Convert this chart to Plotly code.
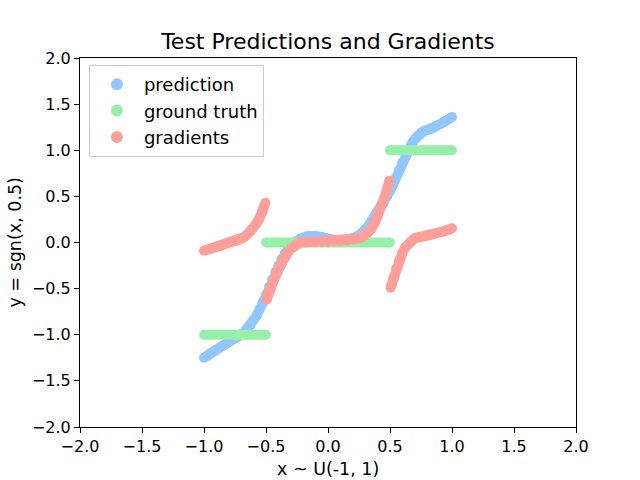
import plotly.graph_objects as go

# ---- data ----
x_pred = [-1.0, -0.975, -0.95, -0.925, -0.9, -0.875, -0.85, -0.825, -0.8, -0.775,
          -0.75, -0.725, -0.7, -0.675, -0.65, -0.625, -0.6, -0.575, -0.55, -0.525,
          -0.5, -0.475, -0.45, -0.425, -0.4, -0.375, -0.35, -0.325, -0.3, -0.275,
          -0.25, -0.225, -0.2, -0.175, -0.15, -0.125, -0.1, -0.075, -0.05, -0.025,
          0.0, 0.025, 0.05, 0.075, 0.1, 0.125, 0.15, 0.175, 0.2, 0.225,
          0.25, 0.275, 0.3, 0.325, 0.35, 0.375, 0.4, 0.425, 0.45, 0.475,
          0.5, 0.525, 0.55, 0.575, 0.6, 0.625, 0.65, 0.675, 0.7, 0.725,
          0.75, 0.775, 0.8, 0.825, 0.85, 0.875, 0.9, 0.925, 0.95, 0.975, 1.0]
y_pred = [-1.25, -1.23, -1.20, -1.18, -1.16, -1.14, -1.12, -1.10, -1.08, -1.06,
          -1.04, -1.02, -1.00, -0.97, -0.93, -0.89, -0.84, -0.79, -0.72, -0.65,
          -0.57, -0.48, -0.40, -0.32, -0.25, -0.18, -0.12, -0.07, -0.03, 0.00,
          0.02, 0.04, 0.055, 0.065, 0.07, 0.07, 0.07, 0.065, 0.06, 0.05,
          0.04, 0.03, 0.025, 0.02, 0.02, 0.02, 0.025, 0.03, 0.04, 0.06,
          0.08, 0.10, 0.14, 0.18, 0.23, 0.28, 0.33, 0.38, 0.43, 0.49,
          0.56, 0.63, 0.71, 0.79, 0.87, 0.94, 1.01, 1.07, 1.12, 1.16,
          1.19, 1.21, 1.22, 1.23, 1.245, 1.26, 1.28, 1.30, 1.32, 1.34, 1.36]

# ground truth: piecewise constant segments (x endpoints, level)
gt_x = [-1.0, -0.5, None, -0.5, 0.5, None, 0.5, 1.0]
gt_y = [-1.0, -1.0, None, 0.0, 0.0, None, 1.0, 1.0]

# gradients: three segments
x_grad1 = [-1.0, -0.975, -0.95, -0.925, -0.9, -0.875, -0.85, -0.825, -0.8, -0.775,
           -0.75, -0.725, -0.7, -0.675, -0.65, -0.625, -0.6, -0.575, -0.55, -0.525, -0.505]
y_grad1 = [-0.09, -0.08, -0.07, -0.06, -0.05, -0.04, -0.03, -0.015, -0.005, 0.005,
           0.015, 0.025, 0.04, 0.06, 0.09, 0.12, 0.16, 0.21, 0.27, 0.34, 0.43]
x_grad2 = [-0.495, -0.475, -0.45, -0.425, -0.4, -0.375, -0.35, -0.325, -0.3, -0.275,
           -0.25, -0.225, -0.2, -0.15, -0.1, -0.05, 0.0, 0.05, 0.1, 0.15,
           0.2, 0.225, 0.25, 0.275, 0.3, 0.325, 0.35, 0.375, 0.4, 0.425,
           0.45, 0.475, 0.495]
y_grad2 = [-0.62, -0.52, -0.44, -0.36, -0.28, -0.21, -0.15, -0.11, -0.07, -0.04,
           -0.015, 0.0, 0.0, 0.005, 0.005, 0.005, 0.005, 0.01, 0.015, 0.02,
           0.03, 0.035, 0.045, 0.06, 0.08, 0.11, 0.15, 0.21, 0.28, 0.37,
           0.47, 0.57, 0.67]
x_grad3 = [0.505, 0.525, 0.55, 0.575, 0.6, 0.625, 0.65, 0.675, 0.7, 0.725,
           0.75, 0.775, 0.8, 0.825, 0.85, 0.875, 0.9, 0.925, 0.95, 0.975, 1.0]
y_grad3 = [-0.49, -0.39, -0.28, -0.19, -0.11, -0.05, -0.01, 0.025, 0.045, 0.055,
           0.06, 0.065, 0.07, 0.08, 0.09, 0.10, 0.11, 0.12, 0.13, 0.14, 0.155]

names = ["prediction", "ground truth", "gradients"]
colors = ["#92C6FF", "#97F0AA", "#FF9F9A"]
tick_vals = [-2.0, -1.5, -1.0, -0.5, 0.0, 0.5, 1.0, 1.5, 2.0]
tick_text = ["\u22122.0", "\u22121.5", "\u22121.0", "\u22120.5", "0.0",
             "0.5", "1.0", "1.5", "2.0"]

FONT = "DejaVu Sans"
MS = 10

grad_x = x_grad1 + [None] + x_grad2 + [None] + x_grad3
grad_y = y_grad1 + [None] + y_grad2 + [None] + y_grad3

series = [(x_pred, y_pred), (gt_x, gt_y), (grad_x, grad_y)]

fig = go.Figure()
for i, ((xs, ys), name, col) in enumerate(zip(series, names, colors)):
    fig.add_trace(go.Scatter(x=xs, y=ys, mode="lines", showlegend=False,
                             legendgroup=f"g{i}",
                             line=dict(color=col, width=MS), hoverinfo="skip",
                             connectgaps=False))
    fig.add_trace(go.Scatter(x=xs, y=ys, mode="markers", name=name,
                             legendgroup=f"g{i}",
                             marker=dict(color=col, size=MS, line=dict(width=0))))

axis_common = dict(
    range=[-2, 2], tickvals=tick_vals, ticktext=tick_text,
    showgrid=False, zeroline=False, showline=True, mirror=True,
    linecolor="black", linewidth=1, ticks="outside", ticklen=5, tickwidth=1,
    tickcolor="black", tickfont=dict(family=FONT, size=16, color="black"),
    automargin=False,
)

fig.update_layout(
    width=640, height=480,
    margin=dict(l=80, r=64, t=58, b=53),
    paper_bgcolor="white", plot_bgcolor="white",
    font=dict(family=FONT, size=16, color="black"),
    title=dict(text="Test Predictions and Gradients", x=0.5, xref="paper",
               xanchor="center", y=1 - 41 / 480, yanchor="middle",
               font=dict(family=FONT, size=22, color="black")),
    xaxis=axis_common,
    yaxis=axis_common,
    legend=dict(x=0.018, y=(427 - 65) / 369, xanchor="left", yanchor="top",
                bgcolor="white", bordercolor="#cccccc", borderwidth=1,
                font=dict(family=FONT, size=18, color="black"),
                itemsizing="constant", itemwidth=44,
                traceorder="grouped", tracegroupgap=0),
    annotations=[
        dict(text="x ~ U(-1, 1)", xref="paper", yref="paper",
             x=0.5, y=(427 - 469) / 369, xanchor="center", yanchor="middle",
             showarrow=False, font=dict(family=FONT, size=17.5, color="black")),
        dict(text="y = sgn(x, 0.5)", xref="paper", yref="paper",
             x=(14 - 80) / 496, y=0.5, xanchor="center", yanchor="middle",
             textangle=-90, showarrow=False,
             font=dict(family=FONT, size=17.5, color="black")),
    ],
)

fig.write_html("out.html")
